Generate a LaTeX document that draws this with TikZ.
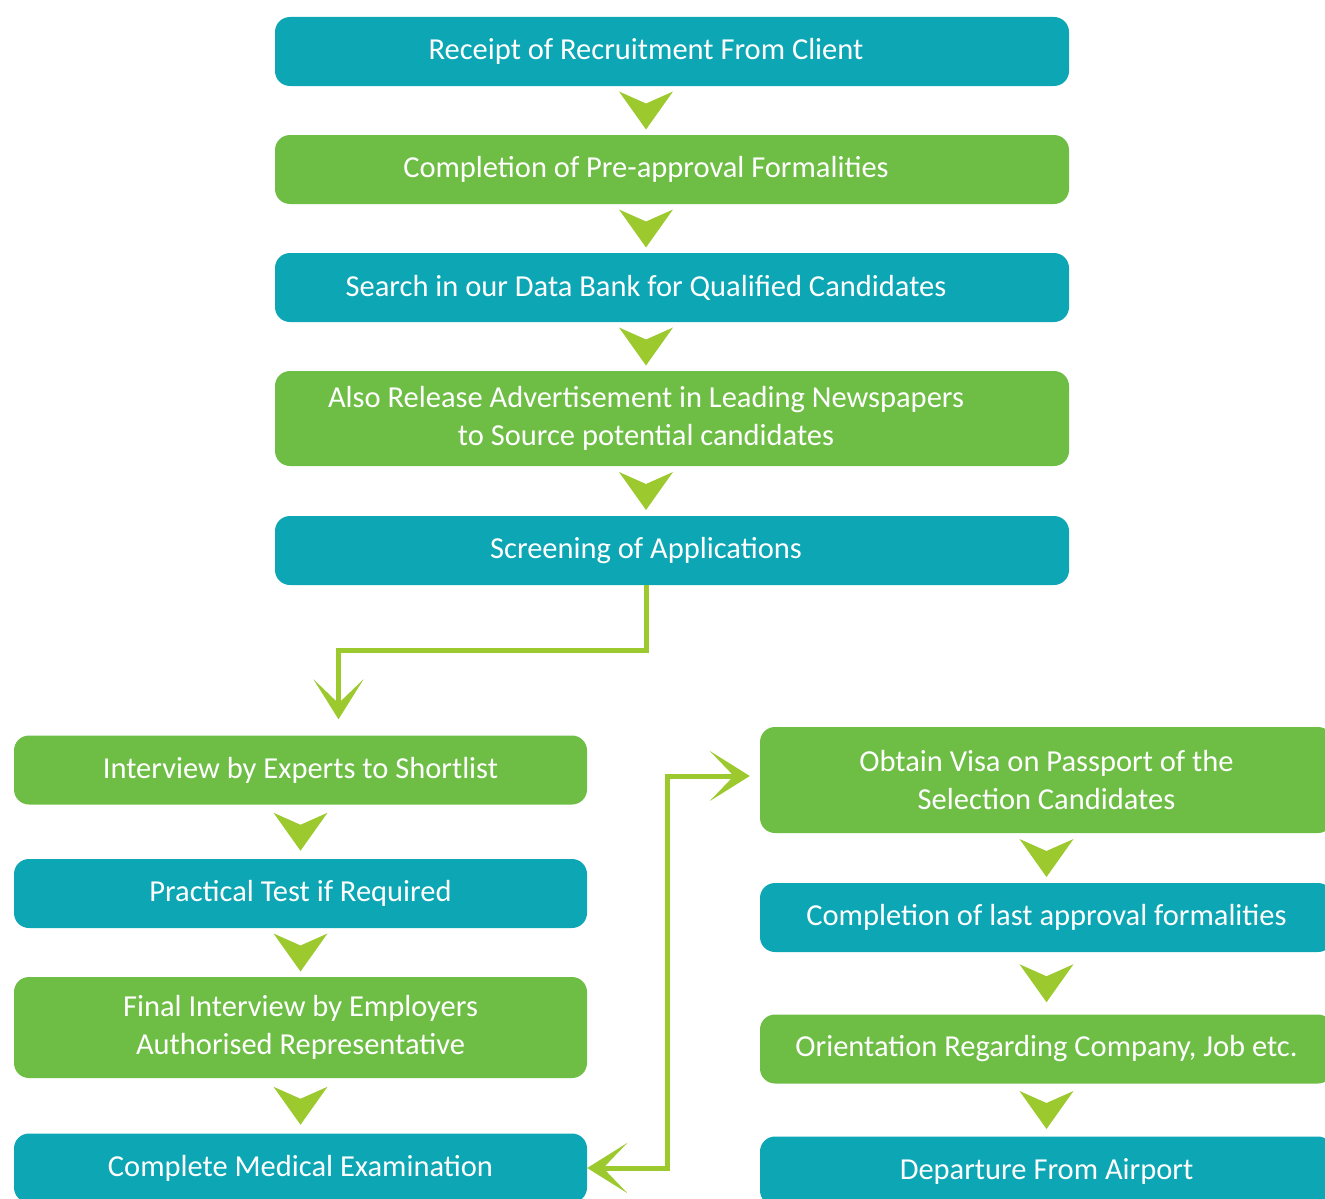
\documentclass[tikz,border=0pt]{standalone}
\usepackage{fontspec}
\setmainfont{Carlito}
\usetikzlibrary{arrows.meta,calc}
\definecolor{boxteal}{RGB}{12,166,180}
\definecolor{boxgreen}{RGB}{110,190,70}
\definecolor{lime}{RGB}{156,201,46}
\tikzset{
  txt/.style={text=white, font=\fontsize{30.5}{38}\selectfont, align=center, inner sep=0pt},
  stepbox/.style={rounded corners=15pt, minimum width=794pt, minimum height=69pt, inner sep=0pt},
  colbox/.style={stepbox, txt, minimum width=573pt},
  tealbox/.style={fill=boxteal},
  greenbox/.style={fill=boxgreen},
  toptext/.style={label={[txt,xshift=-26pt]center:#1}},
  chev/.pic={\fill[lime] (-27,-19) -- (0,-7) -- (27,-19) -- (0,19) -- cycle;},
  conn/.style={draw=lime, line width=5pt, line join=miter,
    -{Stealth[length=40pt,width=50pt,inset=24pt]}},
}
\begin{document}
\begin{tikzpicture}[x=1pt,y=-1pt]
\useasboundingbox (0,0) rectangle (1325,1199);
\clip (0,0) rectangle (1325,1199);
% top column
\node[stepbox,tealbox,toptext={Receipt of Recruitment From Client}]  (b1) at (672,51.5) {};
\node[stepbox,greenbox,toptext={Completion of Pre-approval Formalities}] (b2) at (672,169.5) {};
\node[stepbox,tealbox,toptext={Search in our Data Bank for Qualified Candidates}]  (b3) at (672,287.5) {};
\node[stepbox,greenbox,minimum height=95pt,toptext={Also Release Advertisement in Leading Newspapers\\to Source potential candidates}] (b4) at (672,418.5) {};
\node[stepbox,tealbox,toptext={Screening of Applications}]  (b5) at (672,550.5) {};
% left column
\node[colbox,greenbox] (l1) at (300.5,770) {Interview by Experts to Shortlist};
\node[colbox,tealbox]  (l2) at (300.5,893.5) {Practical Test if Required};
\node[colbox,greenbox,minimum height=101pt] (l3) at (300.5,1027.5) {Final Interview by Employers\\Authorised Representative};
\node[colbox,tealbox]  (l4) at (300.5,1168) {Complete Medical Examination};
% right column
\node[colbox,greenbox,minimum height=106pt] (r1) at (1046.5,780) {Obtain Visa on Passport of the\\Selection Candidates};
\node[colbox,tealbox]  (r2) at (1046.5,917.5) {Completion of last approval formalities};
\node[colbox,greenbox] (r3) at (1046.5,1049) {Orientation Regarding Company, Job etc.};
\node[colbox,tealbox]  (r4) at (1046.5,1171) {Departure From Airport};
% chevrons between boxes
\foreach \a/\b in {b1/b2,b2/b3,b3/b4,b4/b5}
  \path ([xshift=-26pt]$(\a.south)!0.5!(\b.north)$) pic{chev};
\foreach \a/\b in {l1/l2,l2/l3,l3/l4,r1/r2,r2/r3,r3/r4}
  \path ($(\a.south)!0.5!(\b.north)$) pic{chev};
% elbow connectors
\coordinate (t1) at ($(l1.north)+(38,0)$);
\draw[conn, shorten >=16pt] ([xshift=-26pt]b5.south) -- ++(0,65) -| (t1);
\draw[conn, {Stealth[length=40pt,width=50pt,inset=24pt]}-{Stealth[length=40pt,width=50pt,inset=24pt]}, shorten >=10pt]
  (l4.east) -- ++(80,0) |- ([yshift=4pt]r1.west);
\end{tikzpicture}
\end{document}
